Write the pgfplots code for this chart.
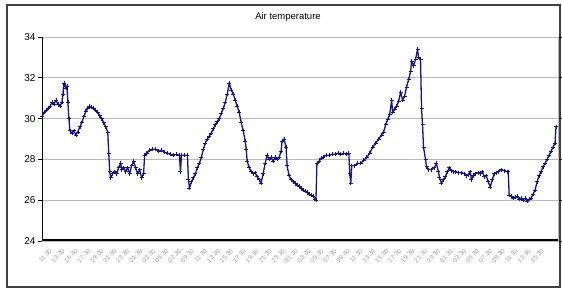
\documentclass[border=0pt]{standalone}
\usepackage{fontspec}
\setmainfont{Liberation Sans}
\usepackage{pgfplots}
\pgfplotsset{compat=1.18}
\definecolor{navyline}{RGB}{20,20,135}
\begin{document}
\begin{tikzpicture}
\path[use as bounding box] (0,0) rectangle (562pt,289pt);
\draw[line width=1.5pt, black!75] (7pt,2pt) rectangle (560pt,284pt);
\node[font=\fontsize{9.5}{10}\selectfont] at (288pt,272pt) {Air temperature};
\begin{axis}[at={(42pt,48pt)}, anchor=south west, scale only axis,
  width=516pt, height=204pt,
  xmin=0, xmax=518, ymin=24, ymax=34,
  ytick={24,26,...,34},
  ymajorgrids, grid style={gray!55, line width=0.7pt},
  axis line style={gray!55, line width=0.7pt},
  tick align=outside, major tick length=4pt,
  ytick style={black, line width=0.7pt},
  xtick style={draw=none},
  /pgf/number format/assume math mode=true,
  yticklabel style={font=\fontsize{10}{12}\selectfont, xshift=1pt},
  xtick={0,13,...,494},
  xticklabels={11:30,13:30,15:30,17:30,19:30,21:30,23:30,01:30,03:30,05:30,07:30,09:30,
    11:30,13:30,15:30,17:30,19:30,21:30,23:30,01:30,03:30,05:30,07:30,09:30,
    11:30,13:30,15:30,17:30,19:30,21:30,23:30,01:30,03:30,05:30,07:30,09:30,
    11:30,13:30,15:30},
  xticklabel style={rotate=45, anchor=north east, font=\fontsize{6.3}{7}\selectfont, text=gray!80, yshift=-7pt, xshift=3pt, inner sep=0.5pt},
]
\addplot[navyline, line width=1.3pt, line join=round, mark=+, mark size=2pt, mark options={line width=0.7pt}] table[x=x, y=y] {
x y
0 30.1
2 30.3
4 30.4
6 30.5
8 30.6
10 30.8
12 30.7
14 30.9
16 30.7
18 30.6
20 30.8
21 31.2
22 31.75
23 31.6
24 31.5
25 31.6
26 30.8
27 30.0
28 29.4
30 29.3
32 29.4
34 29.2
36 29.35
38 29.6
40 29.8
42 30.1
44 30.35
46 30.5
48 30.6
50 30.55
52 30.5
54 30.4
56 30.3
58 30.15
60 30.0
62 29.8
64 29.6
66 29.35
67 28.3
68 27.4
69 27.1
71 27.3
73 27.4
75 27.3
77 27.6
79 27.8
80 27.5
82 27.6
84 27.4
86 27.6
88 27.3
90 27.7
92 27.9
94 27.6
96 27.3
98 27.5
100 27.1
102 27.3
103 28.2
105 28.3
108 28.45
111 28.5
114 28.5
117 28.4
120 28.45
123 28.35
126 28.3
129 28.25
132 28.2
135 28.25
138 28.2
139 27.4
140 28.2
143 28.2
146 28.2
147 27.0
148 26.6
150 26.9
152 27.1
154 27.3
156 27.6
158 27.8
160 28.1
162 28.5
164 28.8
166 29.0
168 29.15
170 29.3
172 29.5
174 29.7
176 29.85
178 30.0
180 30.25
182 30.5
184 30.8
186 31.2
188 31.75
190 31.4
192 31.2
194 30.9
196 30.6
198 30.3
200 29.8
202 29.4
204 28.9
205 28.5
206 27.9
208 27.6
210 27.4
212 27.3
214 27.35
216 27.15
218 27.0
220 26.85
222 27.3
224 27.8
226 28.2
228 28.0
230 28.1
232 27.9
234 28.1
236 28.0
238 28.1
240 28.4
241 28.9
243 29.0
245 28.6
246 27.7
248 27.2
250 27.0
252 26.9
254 26.85
256 26.75
258 26.7
260 26.6
262 26.5
264 26.45
266 26.4
268 26.3
270 26.25
272 26.2
274 26.05
275 26.0
276 27.8
278 27.9
280 28.05
282 28.1
285 28.2
288 28.2
291 28.25
294 28.25
297 28.3
300 28.25
303 28.3
306 28.25
308 28.3
309 27.3
310 26.85
311 27.7
314 27.7
317 27.8
320 27.8
323 27.95
326 28.1
329 28.3
332 28.6
335 28.8
338 29.0
341 29.2
343 29.35
345 29.7
347 29.95
349 30.2
351 30.9
352 30.3
354 30.45
356 30.6
358 30.85
360 31.3
362 30.9
364 31.1
366 31.55
368 31.9
370 32.3
371 32.8
373 32.6
375 32.9
377 33.4
378 33.0
380 32.9
381 30.5
382 29.7
383 28.6
385 28.0
386 27.65
388 27.5
391 27.5
394 27.6
396 27.8
398 27.4
399 27.1
401 26.85
403 27.0
405 27.15
407 27.4
409 27.6
411 27.45
413 27.4
415 27.4
418 27.35
421 27.35
424 27.3
426 27.2
428 27.25
430 27.4
431 27.0
433 27.2
435 27.3
438 27.35
440 27.3
442 27.4
444 27.15
446 27.2
448 26.9
450 26.65
452 27.0
454 27.3
456 27.35
458 27.4
461 27.5
464 27.45
467 27.4
468 27.4
469 26.25
471 26.2
473 26.1
475 26.15
477 26.2
479 26.05
481 26.1
483 26.0
485 26.1
487 25.95
489 26.05
491 26.1
493 26.3
495 26.5
497 26.9
499 27.2
501 27.4
503 27.65
505 27.8
507 28.0
509 28.2
511 28.4
513 28.6
515 28.8
516 29.6
};
\draw[black, line width=0.8pt] (axis cs:0,24) -- (axis cs:0,34);
\draw[black, line width=3.5pt] (axis cs:0,24) -- (axis cs:518,24);
\end{axis}
\end{tikzpicture}
\end{document}
